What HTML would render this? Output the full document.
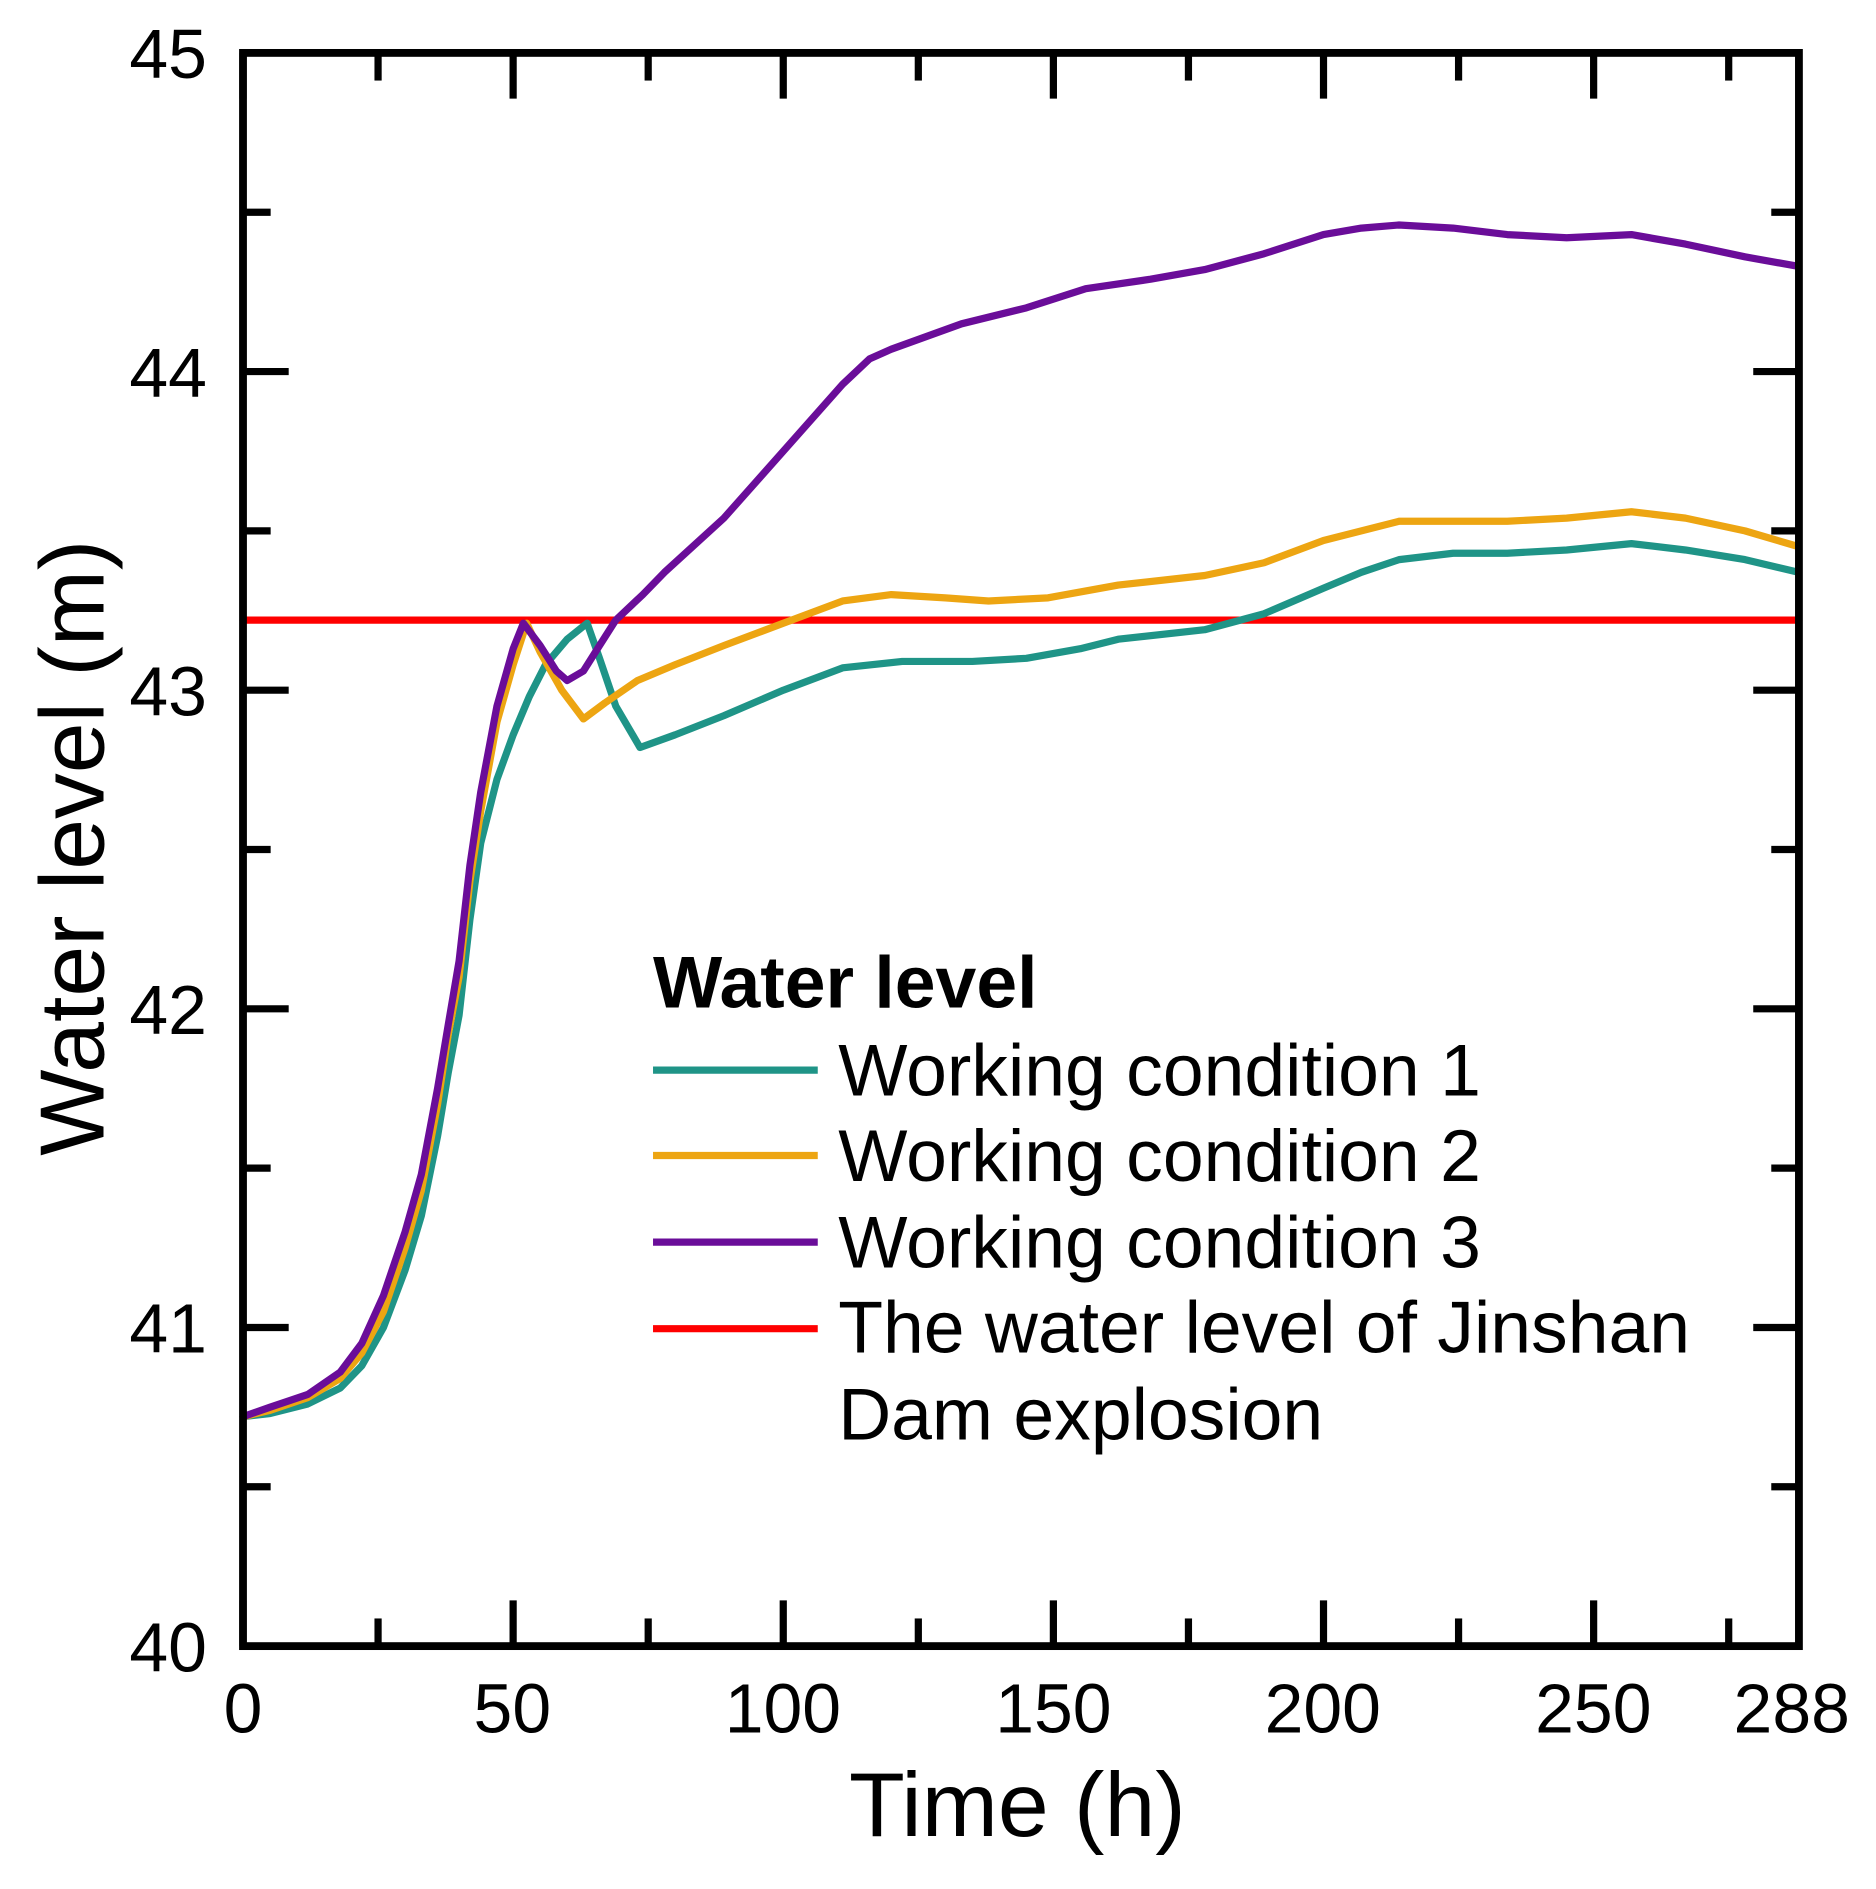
<!DOCTYPE html>
<html><head><meta charset="utf-8"><style>
html,body{margin:0;padding:0;background:#fff;}
svg{display:block;}
text{font-family:"Liberation Sans",Arial,sans-serif;fill:#000;}
</style></head><body>
<svg id="s" width="1876" height="1889" viewBox="0 0 1560 1571" xmlns="http://www.w3.org/2000/svg">
<g id="ticks" stroke="#000" stroke-width="6"></g>
<g id="series" fill="none" stroke-linejoin="round" stroke-linecap="round" stroke-width="6"></g>
<rect x="202" y="44" width="1294" height="1325" fill="none" stroke="#000" stroke-width="6.5"/>
<g font-size="58" text-anchor="end">
<text x="172" y="65">45</text><text x="172" y="330">44</text><text x="172" y="595">43</text>
<text x="172" y="860">42</text><text x="172" y="1125">41</text><text x="172" y="1390">40</text>
</g>
<g font-size="58" text-anchor="middle">
<text x="202" y="1441">0</text><text x="426" y="1441">50</text><text x="651" y="1441">100</text>
<text x="876" y="1441">150</text><text x="1100" y="1441">200</text><text x="1325" y="1441">250</text>
<text x="1490" y="1441">288</text>
</g>
<text x="846" y="1527" font-size="76" text-anchor="middle">Time (h)</text>
<text transform="translate(86,705) rotate(-90)" font-size="76" text-anchor="middle">Water level (m)</text>
<text x="543" y="838" font-size="61" font-weight="bold">Water level</text>
<g stroke-width="6">
<line x1="543" y1="890" x2="680" y2="890" stroke="#1f9487"/>
<line x1="543" y1="961" x2="680" y2="961" stroke="#eda512"/>
<line x1="543" y1="1033" x2="680" y2="1033" stroke="#6a0d99"/>
<line x1="543" y1="1105" x2="680" y2="1105" stroke="#ff0000"/>
</g>
<g font-size="61">
<text x="697" y="911">Working condition 1</text>
<text x="697" y="982">Working condition 2</text>
<text x="697" y="1054">Working condition 3</text>
<text x="697" y="1125">The water level of Jinshan</text>
<text x="697" y="1197">Dam explosion</text>
</g>
</svg>
<script>
var X=function(h){return 202+h*1294/288;},Y=function(v){return 44+(45-v)*265;};
var tk=document.getElementById('ticks'),t="";
for(var h=0;h<=288;h+=25){var big=(h%50==0),L=big?38:23,x=X(h);
 t+='<line x1="'+x+'" y1="1369" x2="'+x+'" y2="'+(1369-L)+'"/><line x1="'+x+'" y1="44" x2="'+x+'" y2="'+(44+L)+'"/>';}
for(var v=40;v<=45.001;v+=0.5){var big=Math.abs(v-Math.round(v))<0.01,L=big?38:23,y=Y(v);
 t+='<line x1="202" y1="'+y+'" x2="'+(202+L)+'" y2="'+y+'"/><line x1="1496" y1="'+y+'" x2="'+(1496-L)+'" y2="'+y+'"/>';}
tk.innerHTML=t;
var S={
"#ff0000":[[0,43.22],[288,43.22]],
"#1f9487":[[0,40.72],[5,40.73],[12,40.76],[18,40.81],[22,40.88],[26,41.0],[30,41.18],[33,41.35],[36,41.6],[38,41.8],[40,41.98],[42,42.28],[44,42.52],[47,42.72],[50,42.86],[53,42.98],[56,43.08],[60,43.16],[63.7,43.21],[66,43.1],[69,42.95],[73.5,42.82],[80,42.86],[89,42.92],[100,43.0],[111,43.07],[122,43.09],[135,43.09],[145,43.1],[155,43.13],[162,43.16],[178,43.19],[189,43.24],[200,43.32],[207,43.37],[214,43.41],[224,43.43],[234,43.43],[245,43.44],[257,43.46],[267,43.44],[278,43.41],[288,43.37]],
"#eda512":[[0,40.72],[5,40.74],[12,40.78],[18,40.84],[22,40.92],[26,41.05],[30,41.25],[33,41.43],[36,41.7],[38,41.92],[40,42.1],[42,42.4],[44,42.62],[47,42.9],[50,43.08],[52.5,43.21],[55,43.12],[59,43.0],[63,42.91],[67,42.96],[73,43.03],[80,43.08],[89,43.14],[100,43.21],[111,43.28],[120,43.30],[130,43.29],[138,43.28],[149,43.29],[162,43.33],[178,43.36],[189,43.40],[200,43.47],[214,43.53],[234,43.53],[245,43.54],[257,43.56],[267,43.54],[278,43.5],[288,43.45]],
"#6a0d99":[[0,40.72],[5,40.75],[12,40.79],[18,40.86],[22,40.95],[26,41.1],[30,41.3],[33,41.48],[36,41.75],[38,41.95],[40,42.15],[42,42.45],[44,42.68],[47,42.95],[50,43.13],[51.9,43.21],[55,43.14],[58,43.06],[60,43.03],[63,43.06],[66,43.14],[69,43.22],[74,43.3],[78,43.37],[89,43.54],[100,43.75],[111,43.96],[116,44.04],[120,44.07],[133,44.15],[145,44.2],[156,44.26],[168,44.29],[178,44.32],[189,44.37],[200,44.43],[207,44.45],[214,44.46],[224,44.45],[234,44.43],[245,44.42],[257,44.43],[267,44.4],[278,44.36],[288,44.33]]};
var g=document.getElementById('series'),o="";
["#ff0000","#1f9487","#eda512","#6a0d99"].forEach(function(c){
 var p=S[c].map(function(d){return X(d[0]).toFixed(1)+","+Y(d[1]).toFixed(1);}).join(" ");
 o+='<polyline stroke="'+c+'" points="'+p+'"/>';});
g.innerHTML=o;
</script>
</body></html>
